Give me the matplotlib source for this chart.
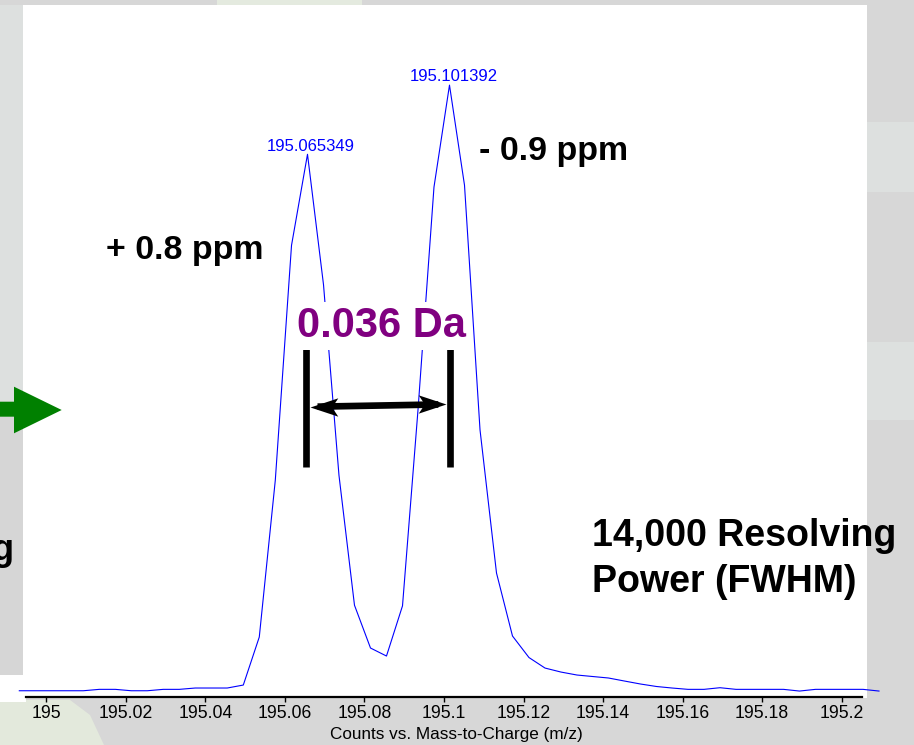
import numpy as np
import matplotlib
matplotlib.use("Agg")
import matplotlib.pyplot as plt
from matplotlib.patches import Rectangle, Polygon
from matplotlib.path import Path

plt.rcParams['font.family'] = ['Liberation Sans', 'DejaVu Sans']

# ---------------- data ----------------
mz = [194.99316, 194.99718, 195.00121, 195.00523, 195.00926, 195.01328, 195.01731,
      195.02133, 195.02536, 195.02938, 195.03341, 195.03743, 195.04146, 195.04548,
      195.04951, 195.05353, 195.05756, 195.06164, 195.06566, 195.06969, 195.07358,
      195.07748, 195.08151, 195.08553, 195.08956, 195.09346, 195.09748, 195.10138,
      195.10516, 195.10906, 195.11321, 195.11723, 195.12138, 195.12541, 195.12943,
      195.13346, 195.13748, 195.14138, 195.14541, 195.14943, 195.15346, 195.15736,
      195.16138, 195.16541, 195.16943, 195.17346, 195.17748, 195.18138, 195.18541,
      195.18943, 195.19346, 195.19748, 195.20138, 195.20541, 195.20943]
intensity = [0.21, 0.21, 0.21, 0.21, 0.21, 0.44, 0.44, 0.21, 0.21, 0.44, 0.44, 0.66,
             0.66, 0.66, 1.15, 9.06, 34.9, 73.6, 88.6, 67.1, 35.7, 14.3, 7.25, 5.93,
             14.2, 46.5, 83.2, 100.0, 83.5, 43.2, 19.6, 9.23, 5.68, 3.95, 3.29, 2.80,
             2.55, 2.31, 1.81, 1.32, 0.91, 0.66, 0.44, 0.44, 0.71, 0.44, 0.44, 0.44,
             0.44, 0.16, 0.44, 0.44, 0.44, 0.44, 0.16]

peak_masses = [195.065349, 195.101392]
tick_values = [195.0, 195.02, 195.04, 195.06, 195.08, 195.1, 195.12, 195.14, 195.16, 195.18, 195.2]
tick_labels = ["195", "195.02", "195.04", "195.06", "195.08", "195.1",
               "195.12", "195.14", "195.16", "195.18", "195.2"]
x_label = "Counts vs. Mass-to-Charge (m/z)"
ppm_labels = ["+ 0.8 ppm", "- 0.9 ppm"]
delta_label = "0.036 Da"
rp_lines = ["14,000 Resolving", "Power (FWHM)"]

# ---------------- figure ----------------
W, H = 914, 745
fig = plt.figure(figsize=(W / 100, H / 100), dpi=100)
fig.patch.set_facecolor('#d7d7d7')


def frect(x0, y0, x1, y1, color, z=-10):
    r = Rectangle((x0 / W, 1 - y1 / H), (x1 - x0) / W, (y1 - y0) / H,
                  transform=fig.transFigure, facecolor=color, edgecolor='none', zorder=z)
    fig.add_artist(r)


def fpoly(pts, color, z=-5):
    p = Polygon([(x / W, 1 - y / H) for x, y in pts], closed=True,
                transform=fig.transFigure, facecolor=color, edgecolor='none', zorder=z)
    fig.add_artist(p)


# slide background decorations
frect(217, 0, 362, 5, '#e4eadf')
frect(867, 122, 914, 192, '#dde0df')
frect(867, 342, 914, 420, '#dde0df')
fpoly([(0, 700), (70, 700), (90, 715), (104, 745), (0, 745)], '#e3e9dc', z=-9)
# white chart panel
frect(0, 5, 867, 698, 'white', z=-8)
frect(0, 698, 26, 702, 'white', z=-8)
# left slide strip
frect(0, 5, 23, 417, '#dde0df', z=-7)
frect(0, 417, 23, 675, '#d6d6d6', z=-7)
# green arrow on slide
fpoly([(0, 401.7), (14, 401.7), (14, 386.7), (61.7, 410), (14, 433.3), (14, 416.7), (0, 416.7)],
      '#008000', z=-4)
fig.text(14 / W, 1 - 560 / H, "g", ha='right', va='baseline', fontsize=26,
         fontweight='bold', color='black')

# ---------------- axes ----------------
ax_left, ax_right, ax_top, ax_bottom = 26, 862, 5, 697
ax = fig.add_axes([ax_left / W, 1 - ax_bottom / H, (ax_right - ax_left) / W, (ax_bottom - ax_top) / H])
ax.set_facecolor('none')
ax.set_xlim(194.994843, 195.205157)
ax.set_ylim(-0.82, 113.2)

ax.plot(mz, intensity, color='#0000ff', lw=0.8, clip_on=False, zorder=3)

for s in ['top', 'left', 'right']:
    ax.spines[s].set_visible(False)
ax.spines['bottom'].set_linewidth(1.6)
ax.set_yticks([])
ax.set_xticks(tick_values)
ax.set_xticklabels(tick_labels, fontsize=12.7)
ax.tick_params(axis='x', direction='out', length=3.8, width=1.0, pad=2.3, colors='black')
ax.set_xlabel(x_label, fontsize=12.3, labelpad=3)
ax.xaxis.set_label_coords((456.5 - ax_left) / (ax_right - ax_left), -0.04)
ax.xaxis.label.set_va('center')
ax.xaxis.set_label_coords((456.5 - ax_left) / (ax_right - ax_left),
                          -(734 - ax_bottom) / (ax_bottom - ax_top))

# peak labels
mz_arr = np.array(mz)
int_arr = np.array(intensity)
for pm in peak_masses:
    i = int(np.argmin(np.abs(mz_arr - pm)))
    ax.annotate(f"{pm:.6f}", xy=(pm, int_arr[i]), xytext=(3, 0.5), textcoords='offset points',
                ha='center', va='bottom', fontsize=12, color='#0000ff', annotation_clip=False)

# bars and double arrow between peaks
bar_lo, bar_hi = 37.0, 56.9
for pm in peak_masses:
    ax.plot([pm, pm], [bar_lo, bar_hi], color='black', lw=4.8, solid_capstyle='butt',
            clip_on=False, zorder=4)
tip_off = 0.00083
xa, xb = peak_masses[0] + tip_off, peak_masses[1] - tip_off
ya, yb = 47.0, 47.4
ax.plot([xa + 0.002, xb - 0.002], [ya + 0.02, yb - 0.02], color='black', lw=4.8,
        solid_capstyle='butt', clip_on=False, zorder=4)
codes = [Path.MOVETO, Path.LINETO, Path.LINETO, Path.LINETO, Path.CLOSEPOLY]
head_r = Path([(0, 0), (-1, 0.33), (-0.78, 0), (-1, -0.33), (0, 0)], codes)
head_l = Path([(0, 0), (1, 0.33), (0.78, 0), (1, -0.33), (0, 0)], codes)
ax.plot([xa], [ya], marker=head_l, ms=40, color='black', mew=0, ls='none', clip_on=False, zorder=5)
ax.plot([xb], [yb], marker=head_r, ms=40, color='black', mew=0, ls='none', clip_on=False, zorder=5)

# ---------------- annotation text ----------------
fig.text(106 / W, 1 - 259 / H, ppm_labels[0], ha='left', va='baseline', fontsize=24.5,
         fontweight='bold', color='black')
fig.text(479 / W, 1 - 160 / H, ppm_labels[1], ha='left', va='baseline', fontsize=24.5,
         fontweight='bold', color='black')
fig.text(381.7 / W, 1 - 336.7 / H, delta_label, ha='center', va='baseline', fontsize=30,
         fontweight='bold', color='#800080',
         bbox=dict(facecolor='white', edgecolor='none', pad=3))
fig.text(592 / W, 1 - 545.7 / H, rp_lines[0], ha='left', va='baseline', fontsize=27,
         fontweight='bold', color='black')
fig.text(592 / W, 1 - 591.7 / H, rp_lines[1], ha='left', va='baseline', fontsize=27,
         fontweight='bold', color='black')

fig.savefig('out.png', dpi=100, facecolor=fig.get_facecolor())
